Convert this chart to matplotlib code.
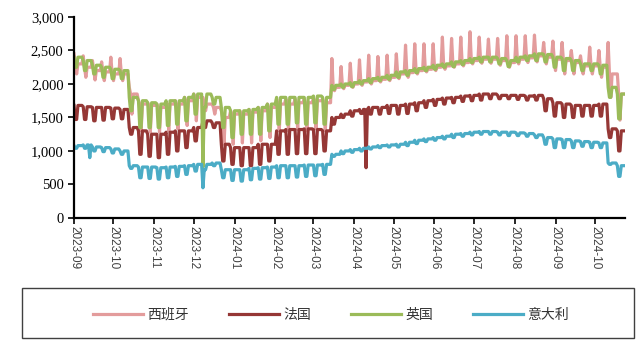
import numpy as np
import pandas as pd
import matplotlib
matplotlib.use('Agg')
import matplotlib.pyplot as plt
import matplotlib.dates as mdates
from matplotlib.ticker import FuncFormatter, MultipleLocator
from matplotlib.patches import Rectangle
from matplotlib.font_manager import FontProperties

# ---------------- data (weekly levels) ----------------
start_date = '2023-09-01'
n_weeks = 60
series_names = ['西班牙', '法国', '英国', '意大利']

# United Kingdom: weekday level / weekend level
uk_hi = [2400, 2350, 2280, 2250, 2220, 2200,
         1800, 1750, 1720, 1700, 1750, 1750, 1800, 1850,
         1850, 1800,
         1650, 1600, 1600, 1620, 1650, 1700,
         1800, 1800, 1800, 1800, 1820, 1800,
         1980, 2000, 2020, 2050, 2080, 2100, 2130, 2180, 2200, 2230, 2250, 2280, 2300,
         2330, 2350, 2380, 2400, 2400, 2380, 2350, 2400, 2420, 2450,
         2440, 2400, 2380, 2350, 2300, 2300, 2280,
         1950, 1850]
uk_lo = [2250, 2200, 2150, 2100, 2080, 2080,
         1600, 1350, 1350, 1350, 1380, 1400, 1450, 1550,
         1650, 1700,
         1350, 1200, 1250, 1250, 1250, 1300,
         1400, 1400, 1420, 1400, 1420, 1400,
         1920, 1950, 1960, 2000, 2020, 2050, 2070, 2100, 2130, 2170, 2200, 2220, 2250,
         2260, 2290, 2320, 2330, 2330, 2300, 2260, 2330, 2350, 2350,
         2330, 2250, 2200, 2200, 2200, 2200, 2150,
         1800, 1480]

# France
fr_hi = [1680, 1660, 1650, 1650, 1640, 1620,
         1350, 1300, 1250, 1250, 1280, 1300, 1300, 1350,
         1450, 1420,
         1100, 1050, 1050, 1050, 1100, 1100,
         1300, 1320, 1320, 1330, 1320, 1300,
         1500, 1550, 1600, 1620, 1650, 1650, 1680, 1680, 1700, 1720, 1750, 1770, 1790,
         1800, 1820, 1830, 1850, 1850, 1830, 1830, 1830, 1820, 1830,
         1780, 1720, 1700, 1680, 1680, 1680, 1700,
         1330, 1300]
fr_lo = [1470, 1470, 1450, 1460, 1480, 1480,
         1250, 950, 920, 900, 950, 1000, 1050, 1150,
         1350, 1350,
         850, 800, 780, 780, 800, 850,
         950, 950, 960, 960, 960, 1000,
         1400, 1500, 1520, 1560, 1550, 1550, 1560, 1550, 1560, 1600, 1650, 1680, 1700,
         1720, 1740, 1750, 1760, 1780, 1780, 1780, 1770, 1760, 1760,
         1600, 1520, 1500, 1500, 1520, 1520, 1520,
         1200, 1000]

# Italy
it_hi = [1080, 1090, 1060, 1050, 1030, 1000,
         780, 760, 760, 750, 760, 770, 780, 800,
         800, 820,
         720, 720, 720, 740, 750, 760,
         780, 780, 780, 790, 790, 800,
         950, 1000, 1020, 1040, 1060, 1080, 1090, 1100, 1130, 1160, 1180, 1200, 1220,
         1250, 1260, 1280, 1290, 1290, 1280, 1280, 1270, 1260, 1240,
         1200, 1180, 1170, 1150, 1140, 1130, 1120,
         820, 780]
it_lo = [1040, 1040, 1000, 990, 970, 950,
         740, 600, 590, 580, 600, 620, 650, 700,
         720, 780,
         600, 560, 550, 570, 580, 590,
         600, 600, 610, 620, 630, 650,
         920, 960, 980, 1000, 1030, 1050, 1060, 1060, 1080, 1110, 1140, 1160, 1180,
         1200, 1220, 1240, 1250, 1250, 1240, 1230, 1230, 1220, 1200,
         1100, 1050, 1050, 1050, 1070, 1050, 1050,
         800, 620]

# Spain: base level / weekly peak / weekly low
es_base = [2300, 2250, 2200, 2180, 2150, 2150,
           1850, 1700, 1680, 1650, 1700, 1700, 1750, 1800,
           1700, 1650,
           1500, 1550, 1550, 1580, 1600, 1650,
           1700, 1700, 1720, 1720, 1750, 1720,
           1950, 1980, 2000, 2030, 2050, 2070, 2100, 2150, 2170, 2200, 2220, 2250, 2270,
           2300, 2320, 2350, 2370, 2370, 2350, 2320, 2370, 2390, 2420,
           2400, 2370, 2350, 2320, 2270, 2270, 2250,
           2150, 1850]
es_peak = [2450, 2420, 2350, 2330, 2400, 2380,
           1950, 1750, 1720, 1700, 1720, 1750, 1800, 1850,
           1800, 1700,
           1600, 1600, 1600, 1620, 1650, 1700,
           1780, 1780, 1780, 1780, 1800, 1780,
           2380, 2260, 2310, 2360, 2430, 2410, 2430, 2450, 2580, 2600, 2600, 2600, 2700,
           2680, 2700, 2780, 2700, 2670, 2680, 2720, 2720, 2720, 2730,
           2620, 2640, 2620, 2500, 2420, 2550, 2500,
           2620, 2150]
es_low = [2150, 2100, 2060, 2050, 2050, 2050,
          1550, 1300, 1280, 1280, 1300, 1330, 1380, 1450,
          1600, 1550,
          1100, 1100, 1120, 1120, 1150, 1200,
          1300, 1300, 1320, 1300, 1330, 1300,
          1900, 1930, 1950, 1980, 2000, 2030, 2050, 2080, 2100, 2150, 2180, 2200, 2220,
          2250, 2270, 2300, 2310, 2310, 2280, 2250, 2300, 2320, 2330,
          2300, 2200, 2150, 2150, 2150, 2150, 2100,
          1800, 1460]

# single-day outliers: (date, series, value)
outliers = [('2023-09-13', '意大利', 900),
            ('2023-12-08', '英国', 760),
            ('2023-12-08', '意大利', 450),
            ('2024-04-10', '法国', 750)]

y_ticks = [0, 500, 1000, 1500, 2000, 2500, 3000]

# ---------------- build daily series ----------------
# order of levels within each week (Fri..Thu)
pattern_std = ['h', 'l', 'l', 'h', 'h', 'h', 'h']
pattern_es = ['p', 'b', 'l', 'b', 'b', 'b', 'b']

def build(levels, pattern):
    vals = []
    for w in range(n_weeks):
        for k in pattern:
            vals.append(levels[k][w])
    return np.array(vals, dtype=float)

dates = pd.date_range(start_date, periods=7 * n_weeks, freq='D')
data = {
    '西班牙': build({'p': es_peak, 'b': es_base, 'l': es_low}, pattern_es),
    '法国': build({'h': fr_hi, 'l': fr_lo}, pattern_std),
    '英国': build({'h': uk_hi, 'l': uk_lo}, pattern_std),
    '意大利': build({'h': it_hi, 'l': it_lo}, pattern_std),
}
for d, s, v in outliers:
    data[s][dates.get_loc(pd.Timestamp(d))] = v

colors = {'西班牙': '#E39C9C', '法国': '#953735', '英国': '#9BBB59', '意大利': '#4BACC6'}

# ---------------- figure ----------------
fig = plt.figure(figsize=(6.38, 3.4), dpi=100)
ax = fig.add_axes([0.116, 0.359, 0.864, 0.591])

handles = []
for name in series_names:
    h, = ax.plot(dates, data[name], color=colors[name], lw=2.3, solid_joinstyle='round')
    handles.append(h)

ax.set_xlim(dates[0], dates[-1])
ax.set_ylim(0, 3000)
ax.set_yticks(y_ticks)
ax.yaxis.set_major_formatter(FuncFormatter(lambda v, p: f'{int(v):,}'))
ax.xaxis.set_major_locator(mdates.MonthLocator())
ax.xaxis.set_major_formatter(mdates.DateFormatter('%Y-%m'))

for sp in ['top', 'right']:
    ax.spines[sp].set_visible(False)
for sp in ['left', 'bottom']:
    ax.spines[sp].set_linewidth(1.6)
    ax.spines[sp].set_color('black')
ax.tick_params(axis='both', direction='out', length=4, width=1.2, color='black')
ax.tick_params(axis='x', pad=2)
for lab in ax.get_yticklabels():
    lab.set_fontfamily('Liberation Serif')
    lab.set_fontsize(10.5)
for lab in ax.get_xticklabels():
    lab.set_fontfamily('Liberation Sans')
    lab.set_fontsize(8.5)
    lab.set_rotation(270)
    lab.set_color('#404040')

# legend box
fig.patches.append(Rectangle((22 / 638, 2 / 340), 612 / 638, 50 / 340,
                             transform=fig.transFigure, fill=False,
                             edgecolor='#404040', lw=1.0))
leg = fig.legend(handles, series_names, loc='center',
                 bbox_to_anchor=(331 / 638, 25 / 340), ncol=4, frameon=False,
                 prop=FontProperties(family=['Noto Sans CJK SC', 'DejaVu Sans'], size=10),
                 handlelength=3.6, handletextpad=0.3, columnspacing=2.9)
for t in leg.get_texts():
    t.set_color('#333333')

fig.savefig('out.png', dpi=100)
